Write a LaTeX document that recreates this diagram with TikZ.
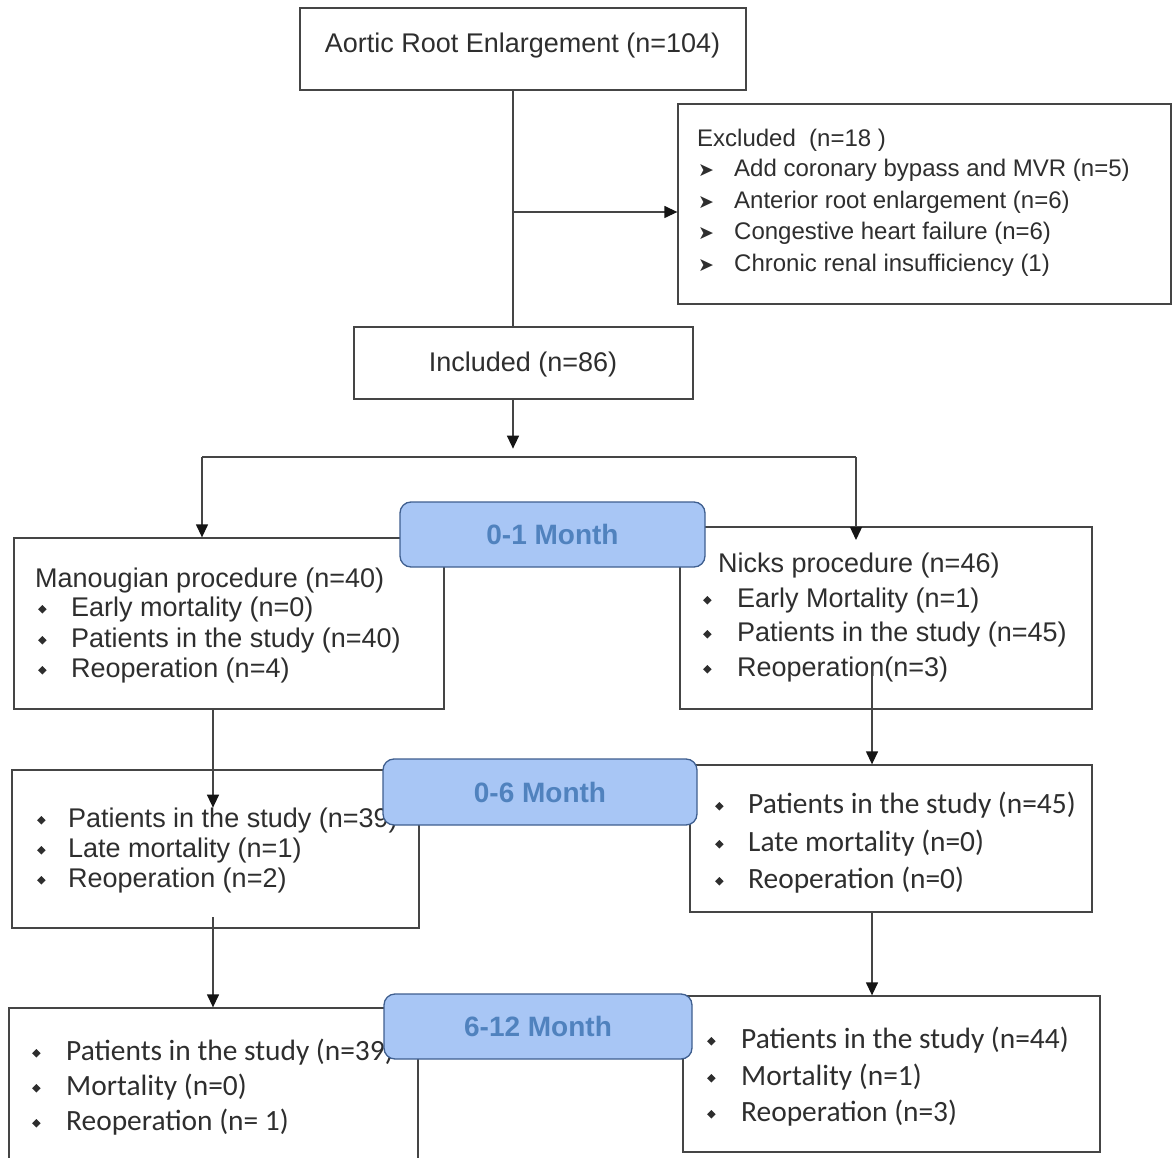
\documentclass[tikz,border=0pt]{standalone}
\usepackage{fontspec}
\setmainfont{Liberation Sans}
\newfontfamily\calfont{Carlito}
\newfontfamily\symfont{DejaVu Sans}
\usetikzlibrary{arrows.meta}
\definecolor{txtc}{HTML}{2E2E2E}
\definecolor{linec}{HTML}{454545}
\definecolor{tipc}{HTML}{151515}
\definecolor{monthfill}{HTML}{A8C6F5}
\definecolor{monthdraw}{HTML}{3F5F8F}
\definecolor{monthtxt}{HTML}{5082BE}
\newcommand\bul[1]{\makebox[#1][l]{\raisebox{2.5pt}{\rotatebox{45}{\rule{6pt}{6pt}}}}}
\newcommand\arw{\makebox[36pt][l]{{\symfont\fontsize{19}{19}\selectfont ➤}}}
\begin{document}
\begin{tikzpicture}[x=1pt,y=-1pt,
  box/.style={draw=linec, line width=1.3pt, fill=white, rectangle, inner sep=0},
  month/.style={draw=monthdraw, line width=1.3pt, fill=monthfill, rectangle, rounded corners=11pt, inner sep=0, text=monthtxt, font=\bfseries\fontsize{28}{32}\selectfont},
  lbl/.style={inner sep=0, anchor=base west, text=txtc, font=\fontsize{27}{31}\selectfont},
  lblc/.style={lbl, anchor=base},
  ex/.style={lbl, font=\fontsize{24}{28}\selectfont},
  cal/.style={lbl, font=\calfont\fontsize{29.4}{33}\selectfont},
  conn/.style={draw=linec, line width=1.3pt},
  arr/.style={conn, -{Triangle[length=13pt,width=12pt,color=tipc]}}]
\useasboundingbox[fill=white] (0,0) rectangle (1173,1158);

% boxes
\node[box, minimum width=446, minimum height=82] (top) at (523,49) {};
\node[box, minimum width=493, minimum height=200] (excl) at (924.5,204) {};
\node[box, minimum width=339, minimum height=72] (inc) at (523.5,363) {};
\node[box, minimum width=430, minimum height=171] (man) at (229,623.5) {};
\node[box, minimum width=412, minimum height=182] (nick) at (886,618) {};
\node[box, minimum width=407, minimum height=158] (l06) at (215.5,849) {};
\node[box, minimum width=402, minimum height=147] (r06) at (891,838.5) {};
\node[box, minimum width=409, minimum height=167] (l612) at (213.5,1091.5) {};
\node[box, minimum width=417, minimum height=156] (r612) at (891.5,1074) {};

% texts
\node[lblc] (ttop) at (522.5,53) {Aortic Root Enlargement (n=104)};
\node[lblc] (tinc) at (523,371) {Included (n=86)};

\node[ex] (e0) at (697,147) {Excluded\ \ (n=18 )};
\node[ex] (e1) at (698,177) {\arw Add coronary bypass and MVR (n=5)};
\node[ex] (e2) at (698,209) {\arw Anterior root enlargement (n=6)};
\node[ex] (e3) at (698,240) {\arw Congestive heart failure (n=6)};
\node[ex] (e4) at (698,272) {\arw Chronic renal insufficiency (1)};

\node[lbl] (m0) at (35,587) {Manougian procedure (n=40)};
\node[lbl] (m1) at (38,616) {\bul{33pt}Early mortality (n=0)};
\node[lbl] (m2) at (38,647) {\bul{33pt}Patients in the study (n=40)};
\node[lbl] (m3) at (38,677) {\bul{33pt}Reoperation (n=4)};

\node[lbl] (n0) at (718,572) {Nicks procedure (n=46)};
\node[lbl] (n1) at (703,607) {\bul{34pt}Early Mortality (n=1)};
\node[lbl] (n2) at (703,641) {\bul{34pt}Patients in the study (n=45)};
\node[lbl] (n3) at (703,676) {\bul{34pt}Reoperation(n=3)};

\node[lbl] (a1) at (37,827) {\bul{31pt}Patients in the study (n=39)};
\node[lbl] (a2) at (37,857) {\bul{31pt}Late mortality (n=1)};
\node[lbl] (a3) at (37,887) {\bul{31pt}Reoperation (n=2)};

\node[cal] (b1) at (715,813) {\bul{33pt}Patients in the study (n=45)};
\node[cal] (b2) at (715,851) {\bul{33pt}Late mortality (n=0)};
\node[cal] (b3) at (715,888) {\bul{33pt}Reoperation (n=0)};

\node[cal] (c1) at (32,1060) {\bul{34pt}Patients in the study (n=39)};
\node[cal] (c2) at (32,1095) {\bul{34pt}Mortality (n=0)};
\node[cal] (c3) at (32,1130) {\bul{34pt}Reoperation (n= 1)};

\node[cal] (d1) at (707,1048) {\bul{34pt}Patients in the study (n=44)};
\node[cal] (d2) at (707,1085) {\bul{34pt}Mortality (n=1)};
\node[cal] (d3) at (707,1121) {\bul{34pt}Reoperation (n=3)};

% connectors
\draw[conn] ([xshift=-10]top.south) -- ([xshift=-10.5]inc.north);
\coordinate (br) at (513,212);
\draw[arr] (br) -- (br -| excl.west);
\draw[arr] ([xshift=-10.5]inc.south) -- ++(0,49);
\coordinate (sl) at (202,457);
\coordinate (sr) at (856,457);
\draw[conn] (sl) -- (sr);
\draw[arr] (sl) -- (sl |- man.north);
\draw[arr] (sr) -- ++(0,83);
\draw[arr] ([xshift=-16]man.south) -- ++(0,98);
\coordinate (nk) at (872,665);
\draw[arr] (nk) -- (nk |- r06.north);
\coordinate (lk) at (213,917);
\draw[arr] (lk) -- (lk |- l612.north);
\draw[arr] ([xshift=-19]r06.south) -- ([xshift=-19.5]r612.north);

% period labels
\node[month, minimum width=305, minimum height=65] (p1) at (552.5,534.5) {0-1 Month};
\node[month, minimum width=314, minimum height=66] (p2) at (540,792) {0-6 Month};
\node[month, minimum width=308, minimum height=65] (p3) at (538,1026.5) {6-12 Month};
\end{tikzpicture}
\end{document}
